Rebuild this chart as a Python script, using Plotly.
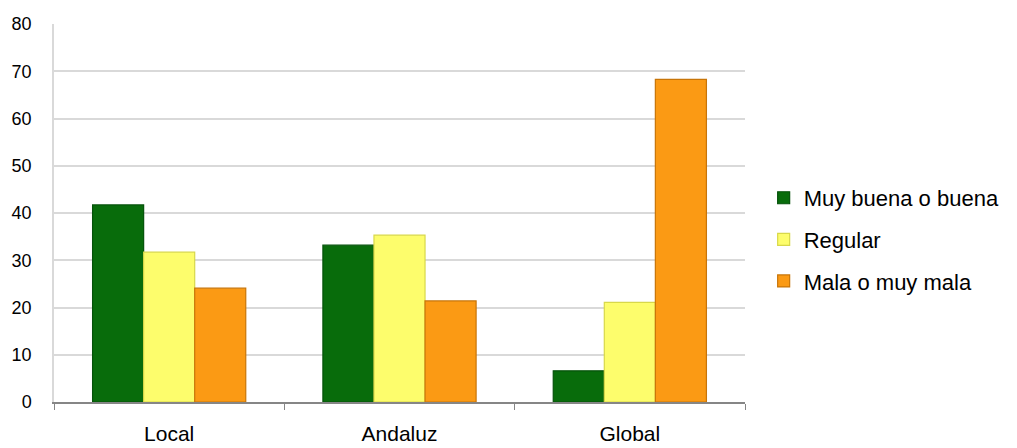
import plotly.graph_objects as go

categories = ["Local", "Andaluz", "Global"]
series_names = ["Muy buena o buena", "Regular", "Mala o muy mala"]
muy_buena = [41.7, 33.2, 6.6]
regular = [31.7, 35.3, 21.1]
mala = [24.1, 21.4, 68.3]
y_ticks = [0, 10, 20, 30, 40, 50, 60, 70, 80]

colors = ["#086c0b", "#fdfd6c", "#fb9a14"]
edge = ["#05520a", "#d8d84a", "#c87508"]

fig = go.Figure()
for name, vals, c, e in zip(series_names, [muy_buena, regular, mala], colors, edge):
    fig.add_trace(go.Bar(x=categories, y=vals, name=name, legendgroup=name,
                         marker=dict(color=c, line=dict(color=e, width=1.2))))

fig.update_layout(
    width=1009, height=440,
    margin=dict(l=46, r=272, t=16, b=46, autoexpand=False),
    paper_bgcolor="white", plot_bgcolor="white",
    barmode="group", bargap=0.335, bargroupgap=0,
    font=dict(family="Liberation Sans, Arial, sans-serif", color="#000000"),
    legend=dict(x=1.027, xanchor="left", y=0.43, yanchor="middle",
                font=dict(size=22), tracegroupgap=10,
                bgcolor="rgba(0,0,0,0)"),
    showlegend=True,
)
fig.update_xaxes(showline=True, linecolor="#868686", linewidth=1.5,
                 ticks="outside", tickson="boundaries", ticklen=6,
                 tickcolor="#868686", tickfont=dict(size=21),
                 ticklabelstandoff=12, showgrid=False, zeroline=False,
                 automargin=False)
fig.update_yaxes(range=[0, 80], tickvals=y_ticks, showgrid=True,
                 gridcolor="#d9d9d9", gridwidth=1.5, showline=True,
                 linecolor="#d9d9d9", linewidth=1.5, ticks="",
                 tickfont=dict(size=18), ticklabelstandoff=17,
                 zeroline=False, automargin=False)

fig.write_html("out.html")
